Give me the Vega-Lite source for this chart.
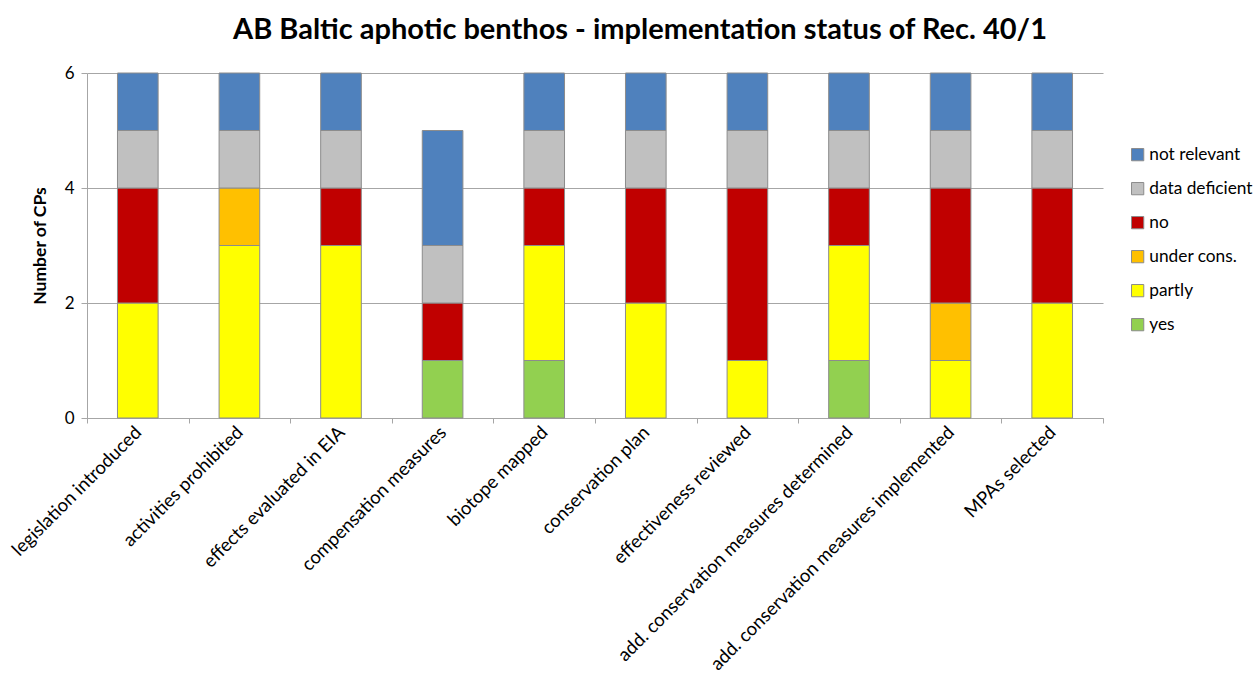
{
  "$schema": "https://vega.github.io/schema/vega-lite/v6.json",
  "autosize": "none",
  "width": 1016,
  "height": 345,
  "padding": {"left": 87, "top": 73, "right": 157, "bottom": 266},
  "background": "white",
  "config": {
    "font": "Lato",
    "view": {"stroke": null}
  },
  "title": {
    "text": "AB Baltic aphotic benthos - implementation status of Rec. 40/1",
    "fontSize": 29,
    "fontWeight": "bold",
    "font": "Lato",
    "color": "#000000",
    "anchor": "middle",
    "frame": "group",
    "dx": 45,
    "offset": 19
  },
  "data": {
    "values": [
      {"measure": "legislation introduced", "status": "partly", "count": 2},
      {"measure": "legislation introduced", "status": "no", "count": 2},
      {"measure": "legislation introduced", "status": "data deficient", "count": 1},
      {"measure": "legislation introduced", "status": "not relevant", "count": 1},
      {"measure": "activities prohibited", "status": "partly", "count": 3},
      {"measure": "activities prohibited", "status": "under cons.", "count": 1},
      {"measure": "activities prohibited", "status": "data deficient", "count": 1},
      {"measure": "activities prohibited", "status": "not relevant", "count": 1},
      {"measure": "effects evaluated in EIA", "status": "partly", "count": 3},
      {"measure": "effects evaluated in EIA", "status": "no", "count": 1},
      {"measure": "effects evaluated in EIA", "status": "data deficient", "count": 1},
      {"measure": "effects evaluated in EIA", "status": "not relevant", "count": 1},
      {"measure": "compensation measures", "status": "yes", "count": 1},
      {"measure": "compensation measures", "status": "no", "count": 1},
      {"measure": "compensation measures", "status": "data deficient", "count": 1},
      {"measure": "compensation measures", "status": "not relevant", "count": 2},
      {"measure": "biotope mapped", "status": "yes", "count": 1},
      {"measure": "biotope mapped", "status": "partly", "count": 2},
      {"measure": "biotope mapped", "status": "no", "count": 1},
      {"measure": "biotope mapped", "status": "data deficient", "count": 1},
      {"measure": "biotope mapped", "status": "not relevant", "count": 1},
      {"measure": "conservation plan", "status": "partly", "count": 2},
      {"measure": "conservation plan", "status": "no", "count": 2},
      {"measure": "conservation plan", "status": "data deficient", "count": 1},
      {"measure": "conservation plan", "status": "not relevant", "count": 1},
      {"measure": "effectiveness reviewed", "status": "partly", "count": 1},
      {"measure": "effectiveness reviewed", "status": "no", "count": 3},
      {"measure": "effectiveness reviewed", "status": "data deficient", "count": 1},
      {"measure": "effectiveness reviewed", "status": "not relevant", "count": 1},
      {"measure": "add. conservation measures determined", "status": "yes", "count": 1},
      {"measure": "add. conservation measures determined", "status": "partly", "count": 2},
      {"measure": "add. conservation measures determined", "status": "no", "count": 1},
      {"measure": "add. conservation measures determined", "status": "data deficient", "count": 1},
      {"measure": "add. conservation measures determined", "status": "not relevant", "count": 1},
      {"measure": "add. conservation measures implemented", "status": "partly", "count": 1},
      {"measure": "add. conservation measures implemented", "status": "under cons.", "count": 1},
      {"measure": "add. conservation measures implemented", "status": "no", "count": 2},
      {"measure": "add. conservation measures implemented", "status": "data deficient", "count": 1},
      {"measure": "add. conservation measures implemented", "status": "not relevant", "count": 1},
      {"measure": "MPAs selected", "status": "partly", "count": 2},
      {"measure": "MPAs selected", "status": "no", "count": 2},
      {"measure": "MPAs selected", "status": "data deficient", "count": 1},
      {"measure": "MPAs selected", "status": "not relevant", "count": 1}
    ]
  },
  "transform": [
    {"calculate": "indexof(['yes', 'partly', 'under cons.', 'no', 'data deficient', 'not relevant'], datum.status)", "as": "stackOrder"}
  ],
  "mark": {"type": "bar", "width": {"band": 0.4}, "stroke": "#8c8c8c", "strokeWidth": 1},
  "encoding": {
    "x": {
      "field": "measure",
      "type": "nominal",
      "sort": null,
      "scale": {"paddingInner": 0, "paddingOuter": 0},
      "axis": {
        "title": null,
        "labelAngle": -45,
        "labelAlign": "right",
        "labelBaseline": "middle",
        "labelFontSize": 18.5,
        "labelColor": "#000000",
        "labelPadding": 6,
        "tickBand": "extent",
        "ticks": true,
        "tickSize": 5,
        "tickColor": "#a6a6a6",
        "domainColor": "#a6a6a6",
        "grid": false,
        "labelLimit": 500
      }
    },
    "y": {
      "field": "count",
      "type": "quantitative",
      "stack": "zero",
      "scale": {"domain": [0, 6], "nice": false},
      "axis": {
        "title": "Number of CPs",
        "titleFontSize": 17.5,
        "titleFontWeight": "bold",
        "titleColor": "#000000",
        "titlePadding": 15,
        "values": [0, 2, 4, 6],
        "labelFontSize": 17,
        "labelColor": "#000000",
        "labelPadding": 7,
        "tickSize": 6,
        "tickColor": "#a6a6a6",
        "domainColor": "#a6a6a6",
        "gridColor": "#a6a6a6",
        "grid": true
      }
    },
    "color": {
      "field": "status",
      "type": "nominal",
      "scale": {
        "domain": ["not relevant", "data deficient", "no", "under cons.", "partly", "yes"],
        "range": ["#4f81bd", "#c0c0c0", "#c00000", "#ffc000", "#ffff00", "#92d050"]
      },
      "legend": {
        "title": null,
        "orient": "none",
        "legendX": 1042,
        "legendY": 73,
        "symbolType": "square",
        "symbolSize": 150,
        "symbolStrokeColor": "#8c8c8c",
        "symbolStrokeWidth": 1,
        "labelFontSize": 17.3,
        "labelColor": "#000000",
        "labelOffset": 3,
        "rowPadding": 16
      }
    },
    "order": {"field": "stackOrder", "type": "quantitative", "sort": "ascending"}
  }
}
